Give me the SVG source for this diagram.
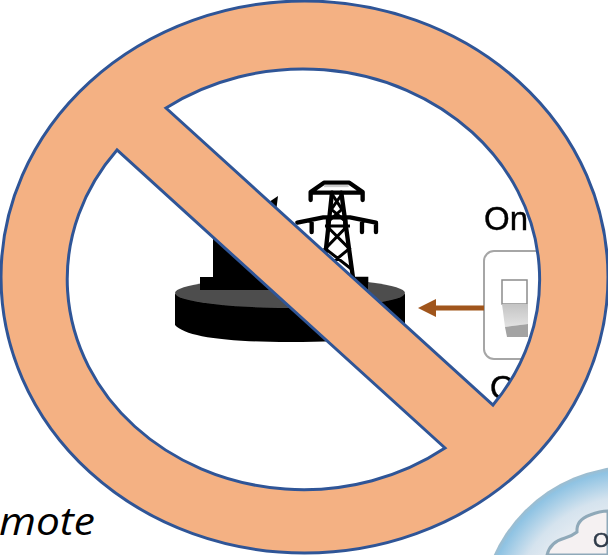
<svg xmlns="http://www.w3.org/2000/svg" width="608" height="555" viewBox="0 0 608 555">
  <style>
    .lbl { font-family: "Liberation Sans", Arial, sans-serif; font-size: 33px; fill: #000; stroke: #000; stroke-width: 0.4; }
    .t { fill: none; stroke: #000; stroke-width: 13; stroke-linejoin: round; stroke-linecap: round; }
    .l { fill: none; stroke: #000; stroke-width: 9; }
  </style>
  <defs>
    <filter id="soft" x="-5%" y="-5%" width="110%" height="110%"><feGaussianBlur stdDeviation="0.6"/></filter>
    <linearGradient id="toggle" x1="0" y1="0" x2="0" y2="1"><stop offset="0" stop-color="#c4c4c4"/><stop offset="1" stop-color="#e2e2e2"/></linearGradient>
    <radialGradient id="cloudRing" gradientUnits="userSpaceOnUse" cx="632" cy="618" r="152">
      <stop offset="0.55" stop-color="#f3f3f5"/><stop offset="0.8" stop-color="#d5e3ee"/><stop offset="0.97" stop-color="#8fc3e3"/><stop offset="1" stop-color="#9fbccd"/>
    </radialGradient>
  </defs>
  <rect width="608" height="555" fill="#fff"/>
  <g id="station" filter="url(#soft)">
    <path d="M175 294 V325 Q190 342 290 342 Q390 342 405 325 V294 Z" fill="#000"/>
    <ellipse cx="290" cy="293" rx="115" ry="15" fill="#4d4d4d"/>
    <rect x="200" y="277" width="168" height="13" fill="#000"/>
    <path d="M213 290 V236 L300 290 Z" fill="#000"/>
    <path d="M269 202 L278 196 L276 212 Z" fill="#000"/>
  </g>
  <g id="tower" filter="url(#soft)" transform="translate(160 170) scale(0.3333)">
    <path class="t" d="M452 90 V66 L492 38 H568 L608 66 V90 M452 68 H608"/>
    <path d="M492 48 H566" stroke="#ccc" stroke-width="7" fill="none"/>
    <path class="t" d="M412 158 L490 142 H570 L648 158 M455 158 V186 M504 150 V176 M556 150 V176 M606 158 V186 M648 158 V186"/>
    <path class="t" d="M516 68 L488 330 M544 68 L580 330"/>
    <path class="l" d="M516 72 L546 118 L510 150 M546 72 L514 118 L552 150 M500 168 L568 236 L490 300 M562 168 L496 236 L578 300 M495 168 H570"/>
    <path d="M470 340 L625 340 V320 H470 Z" fill="#000"/>
  </g>
  <g id="switch" filter="url(#soft)">
    <rect x="484" y="251" width="90" height="108" rx="10" fill="#fff" stroke="#a6a6a6" stroke-width="2"/>
    <rect x="502" y="280" width="25" height="24" fill="#fff" stroke="#8c8c8c" stroke-width="1.5"/>
    <path d="M502 304 H528 V324 L505 327 Z" fill="url(#toggle)"/>
    <path d="M505 327 L528 324 V337 L507 337 Z" fill="#a3a3a3"/>
    <text class="lbl" x="484" y="230">On</text>
    <text class="lbl" x="490" y="399">O</text>
  </g>
  <g id="connectors" filter="url(#soft)">
    <path d="M484 308 H434" stroke="#a0541c" stroke-width="5" fill="none"/>
    <path d="M418 308 L436 299 V317 Z" fill="#a0541c"/>
  </g>
  <g id="cloud" filter="url(#soft)">
    <circle cx="632" cy="618" r="152" fill="url(#cloudRing)"/>
    <path d="M547 555 Q550 542 565 538 Q572 536 577 532 Q576 520 590 515 Q600 511 608 511 V555 Z" fill="#f5f1f2" stroke="#8fa9b9" stroke-width="3"/>
    <text x="593" y="547" font-family="Liberation Sans, Arial, sans-serif" font-size="21" fill="#2f3b4a" stroke="#2f3b4a" stroke-width="0.5">O</text>
  </g>
  <text id="caption" x="-1" y="535" font-family="Open Sans, Noto Sans, sans-serif" font-style="italic" font-size="38" fill="#000" textLength="96" lengthAdjust="spacingAndGlyphs">mote</text>
  <g id="prohibition">
    <path fill="#F4B183" stroke="#2F5597" stroke-width="3" fill-rule="evenodd" stroke-linejoin="miter"
      d="M1 277 A303.5 276 0 1 1 608 277 A303.5 276 0 1 1 1 277 Z
         M166 108 A236.5 210.5 0 0 1 493 405 Z
         M117 150 A236.5 210.5 0 0 0 445 448 Z"/>
  </g>
</svg>
